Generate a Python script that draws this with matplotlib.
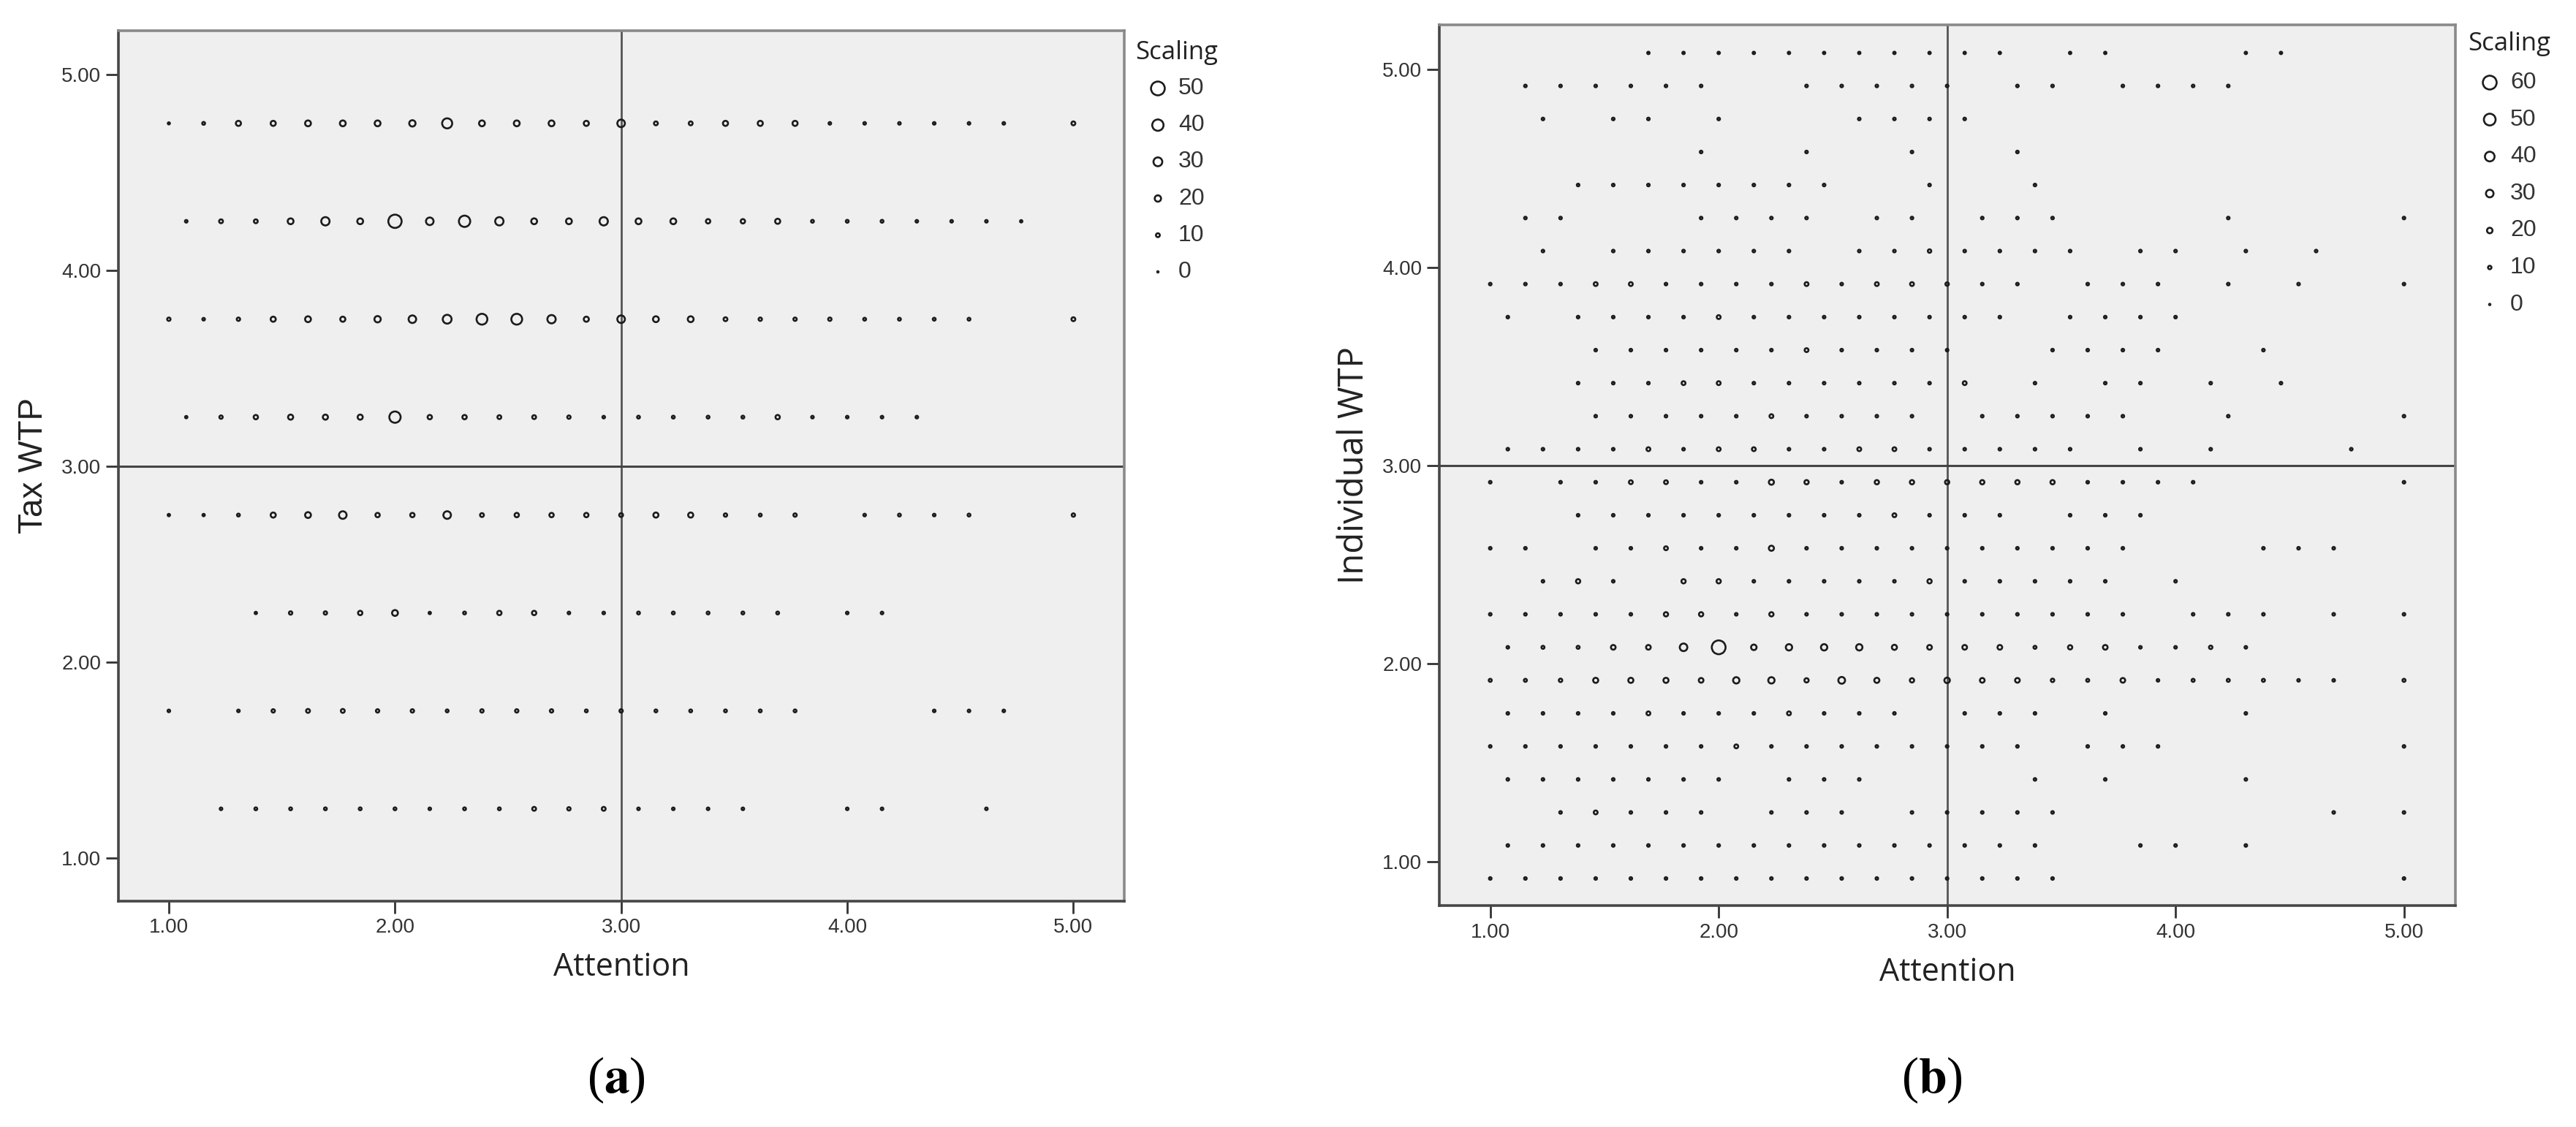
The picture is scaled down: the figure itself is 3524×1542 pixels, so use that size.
import matplotlib
matplotlib.use("Agg")
import matplotlib.pyplot as plt
from matplotlib import font_manager

# Attention scores sit on a grid of 1/13 steps: Attention = 1 + step / 13
# (a) Tax WTP rows
a_wtp = [5.25, 4.75, 4.25, 3.75, 3.25, 2.75, 2.25, 1.75, 1.25]
a_steps = [
    [15, 19, 21, 23, 25, 27],
    [0, 2, 4, 6, 8, 10, 12, 14, 16, 18, 20, 22, 24, 26, 28, 30, 32, 34, 36, 38, 40, 42, 44, 46, 48, 52],
    [1, 3, 5, 7, 9, 11, 13, 15, 17, 19, 21, 23, 25, 27, 29, 31, 33, 35, 37, 39, 41, 43, 45, 47, 49],
    [0, 2, 4, 6, 8, 10, 12, 14, 16, 18, 20, 22, 24, 26, 28, 30, 32, 34, 36, 38, 40, 42, 44, 46, 52],
    [1, 3, 5, 7, 9, 11, 13, 15, 17, 19, 21, 23, 25, 27, 29, 31, 33, 35, 37, 39, 41, 43],
    [0, 2, 4, 6, 8, 10, 12, 14, 16, 18, 20, 22, 24, 26, 28, 30, 32, 34, 36, 40, 42, 44, 46, 52],
    [5, 7, 9, 11, 13, 15, 17, 19, 21, 23, 25, 27, 29, 31, 33, 35, 39, 41],
    [0, 4, 6, 8, 10, 12, 14, 16, 18, 20, 22, 24, 26, 28, 30, 32, 34, 36, 44, 46, 48],
    [3, 5, 7, 9, 11, 13, 15, 17, 19, 21, 23, 25, 27, 29, 31, 33, 39, 41, 47],
]
a_counts = [
    [4, 6, 10, 6, 3, 3],
    [3, 6, 15, 15, 18, 18, 18, 20, 35, 18, 18, 18, 15, 25, 10, 10, 15, 15, 15, 5, 5, 5, 5, 5, 5, 10],
    [5, 10, 10, 18, 28, 18, 48, 25, 40, 28, 18, 18, 28, 18, 18, 12, 12, 15, 6, 6, 6, 5, 5, 5, 4],
    [8, 5, 8, 15, 18, 15, 20, 25, 30, 38, 38, 28, 15, 25, 18, 18, 10, 8, 8, 8, 6, 6, 6, 6, 10],
    [4, 8, 12, 15, 15, 15, 40, 12, 12, 10, 10, 8, 5, 6, 6, 6, 6, 12, 5, 5, 5, 5],
    [4, 4, 6, 15, 18, 25, 12, 12, 25, 10, 12, 12, 12, 10, 15, 15, 8, 6, 8, 5, 6, 5, 6, 8],
    [4, 8, 8, 12, 18, 4, 6, 12, 12, 5, 5, 6, 6, 6, 6, 6, 5, 5],
    [5, 5, 8, 10, 10, 8, 8, 6, 8, 8, 8, 6, 8, 6, 6, 6, 6, 6, 5, 5, 5],
    [5, 6, 6, 6, 6, 6, 5, 6, 6, 10, 8, 10, 5, 5, 5, 5, 5, 5, 5],
]

# (b) Individual WTP rows, WTP = twelfths / 12
b_twelfths = [61, 59, 57, 55, 53, 51, 49, 47, 45, 43, 41, 39, 37, 35, 33, 31, 29, 27, 25, 23, 21, 19, 17, 15, 13, 11]
b_steps = [
    [9, 11, 13, 15, 17, 19, 21, 23, 25, 27, 29, 33, 35, 43, 45],
    [2, 4, 6, 8, 10, 12, 18, 20, 22, 24, 26, 30, 32, 36, 38, 40, 42],
    [3, 7, 9, 13, 21, 23, 25, 27],
    [12, 18, 24, 30],
    [5, 7, 9, 11, 13, 15, 17, 19, 25, 31],
    [2, 4, 12, 14, 16, 18, 22, 24, 28, 30, 32, 42, 52],
    [3, 7, 9, 11, 13, 15, 17, 21, 23, 25, 27, 29, 31, 33, 37, 39, 43, 47],
    [0, 2, 4, 6, 8, 10, 12, 14, 16, 18, 20, 22, 24, 26, 28, 30, 34, 36, 38, 42, 46, 52],
    [1, 5, 7, 9, 11, 13, 15, 17, 19, 21, 23, 25, 27, 29, 33, 35, 37, 39],
    [6, 8, 10, 12, 14, 16, 18, 20, 22, 24, 26, 32, 34, 36, 38, 44],
    [5, 7, 9, 11, 13, 15, 17, 19, 21, 23, 25, 27, 31, 35, 37, 41, 45],
    [6, 8, 10, 12, 14, 16, 18, 20, 22, 24, 28, 30, 32, 34, 36, 42, 52],
    [1, 3, 5, 7, 9, 11, 13, 15, 17, 19, 21, 23, 25, 27, 29, 31, 33, 37, 41, 49],
    [0, 4, 6, 8, 10, 12, 14, 16, 18, 20, 22, 24, 26, 28, 30, 32, 34, 36, 38, 40, 52],
    [5, 7, 9, 11, 13, 15, 17, 19, 21, 23, 25, 27, 29, 33, 35, 37],
    [0, 2, 6, 8, 10, 12, 14, 16, 18, 20, 22, 24, 26, 28, 30, 32, 34, 36, 44, 46, 48],
    [3, 5, 7, 11, 13, 15, 17, 19, 21, 23, 25, 27, 29, 31, 33, 35, 39],
    [0, 2, 4, 6, 8, 10, 12, 14, 16, 18, 20, 22, 24, 26, 28, 30, 32, 34, 36, 40, 42, 44, 48, 52],
    [1, 3, 5, 7, 9, 11, 13, 15, 17, 19, 21, 23, 25, 27, 29, 31, 33, 35, 37, 39, 41, 43],
    [0, 2, 4, 6, 8, 10, 12, 14, 16, 18, 20, 22, 24, 26, 28, 30, 32, 34, 36, 38, 40, 42, 44, 46, 48, 52],
    [1, 3, 5, 7, 9, 11, 13, 15, 17, 19, 21, 23, 27, 29, 31, 35, 43],
    [0, 2, 4, 6, 8, 10, 12, 14, 16, 18, 20, 22, 24, 26, 28, 30, 34, 36, 38, 52],
    [1, 3, 5, 7, 9, 11, 13, 17, 19, 21, 31, 35, 43],
    [4, 6, 8, 10, 12, 16, 18, 20, 24, 26, 28, 30, 32, 48, 52],
    [1, 3, 5, 7, 9, 11, 13, 15, 17, 19, 21, 23, 25, 27, 29, 31, 37, 39, 43],
    [0, 2, 4, 6, 8, 10, 12, 14, 16, 18, 20, 22, 24, 26, 28, 30, 32, 52],
]
b_counts = [
    [5, 5, 5, 5, 5, 5, 5, 5, 5, 5, 5, 5, 5, 5, 5],
    [6, 6, 6, 6, 6, 6, 6, 6, 6, 6, 6, 6, 6, 6, 6, 6, 6],
    [6, 6, 6, 6, 6, 6, 6, 6],
    [6, 6, 6, 6],
    [6, 6, 6, 6, 6, 6, 6, 6, 6, 6],
    [6, 6, 6, 6, 6, 6, 6, 6, 6, 6, 6, 6, 6],
    [6, 6, 6, 6, 6, 6, 6, 6, 6, 10, 6, 6, 6, 6, 6, 6, 6, 6],
    [6, 6, 6, 12, 12, 6, 6, 6, 6, 12, 6, 12, 12, 10, 6, 6, 6, 6, 6, 6, 6, 6],
    [6, 6, 6, 6, 6, 12, 6, 6, 6, 6, 6, 6, 6, 6, 6, 6, 6, 6],
    [6, 6, 6, 6, 6, 6, 12, 6, 6, 6, 6, 6, 6, 6, 6, 6],
    [6, 6, 6, 12, 12, 6, 6, 6, 6, 6, 6, 12, 6, 6, 6, 6, 6],
    [6, 6, 6, 6, 6, 12, 6, 6, 6, 6, 6, 6, 6, 6, 6, 6, 6],
    [6, 6, 6, 6, 12, 6, 12, 12, 6, 6, 12, 12, 6, 6, 6, 6, 6, 6, 6, 6],
    [6, 6, 6, 12, 12, 6, 6, 18, 14, 6, 14, 14, 14, 14, 14, 14, 6, 6, 6, 6, 6],
    [6, 6, 6, 6, 6, 6, 6, 6, 6, 12, 6, 6, 6, 6, 6, 6],
    [6, 6, 6, 6, 12, 6, 6, 18, 6, 6, 6, 6, 6, 6, 6, 6, 6, 6, 6, 6, 6],
    [6, 14, 6, 14, 14, 6, 6, 6, 6, 6, 14, 6, 6, 6, 6, 6, 6],
    [6, 6, 6, 6, 6, 14, 14, 6, 14, 6, 6, 6, 6, 6, 6, 6, 6, 6, 6, 6, 6, 6, 6, 6],
    [6, 8, 8, 16, 16, 30, 60, 20, 24, 24, 24, 18, 16, 16, 16, 8, 14, 16, 6, 6, 10, 6],
    [8, 8, 10, 18, 18, 18, 16, 24, 24, 14, 26, 18, 14, 20, 16, 16, 10, 8, 16, 6, 8, 8, 8, 6, 6, 8],
    [6, 6, 6, 6, 12, 6, 6, 6, 12, 6, 6, 6, 6, 6, 6, 6, 6],
    [6, 6, 6, 6, 6, 6, 6, 12, 6, 6, 6, 6, 6, 6, 6, 6, 6, 6, 6, 6],
    [6, 6, 6, 6, 6, 6, 6, 6, 6, 6, 6, 6, 6],
    [6, 12, 6, 6, 6, 6, 6, 6, 6, 6, 6, 6, 6, 6, 6],
    [6, 6, 6, 6, 6, 6, 6, 6, 6, 6, 6, 6, 6, 6, 6, 6, 6, 6, 6],
    [6, 6, 6, 6, 6, 6, 6, 6, 6, 6, 6, 6, 6, 6, 6, 6, 6, 6],
]

ticks = [1, 2, 3, 4, 5]
tick_labels = ["1.00", "2.00", "3.00", "4.00", "5.00"]
a_legend = [50, 40, 30, 20, 10, 0]
b_legend = [60, 50, 40, 30, 20, 10, 0]

W, H = 3524, 1542
EDGE = "#1c1c1c"
LW = 1.9  # marker outline, points

installed = {f.name for f in font_manager.fontManager.ttflist}
NARROW = "Liberation Sans Narrow" if "Liberation Sans Narrow" in installed else "Liberation Sans"
UI = "Open Sans"
plt.rcParams["mathtext.fontset"] = "stix"


def marker_area(count, cmax):
    outer_px = 4.5 + 17 * count / cmax
    inner_px = max(outer_px - LW / 0.72, 1.2)
    return (inner_px * 0.72) ** 2


def px_box(left, top, right, bottom):
    return [left / W, 1 - bottom / H, (right - left) / W, (bottom - top) / H]


def setup(ax, ylabel, yfont, ysize, ylabelpad):
    ax.set_facecolor("#efefef")
    ax.set_xlim(0.777, 5.225)
    ax.set_ylim(0.78, 5.225)
    ax.axvline(3, color="#555555", lw=2.0, zorder=2)
    ax.axhline(3, color="#444444", lw=2.2, zorder=2)
    for side in ["left", "bottom"]:
        ax.spines[side].set_color("#474747")
        ax.spines[side].set_linewidth(2.6)
    for side in ["top", "right"]:
        ax.spines[side].set_color("#8a8a8a")
        ax.spines[side].set_linewidth(2.6)
    ax.set_xticks(ticks)
    ax.set_xticklabels(tick_labels)
    ax.set_yticks(ticks)
    ax.set_yticklabels(tick_labels)
    ax.tick_params(length=12, width=2, color="#333333", labelcolor="#333333",
                   labelsize=20, pad=5)
    for lab in ax.get_xticklabels() + ax.get_yticklabels():
        lab.set_fontfamily(NARROW)
    ax.set_xlabel("Attention", fontsize=31, fontfamily=UI, color="#222222", labelpad=14)
    ax.set_ylabel(ylabel, fontsize=ysize, fontfamily=yfont, color="#222222", labelpad=ylabelpad)


fig = plt.figure(figsize=(W / 100, H / 100), dpi=100)

ax_a = fig.add_axes(px_box(162, 41.5, 1538, 1232.6))
setup(ax_a, "Tax WTP", "Liberation Sans", 33, 12)
for wtp, steps, counts in zip(a_wtp, a_steps, a_counts):
    xs = [1 + s / 13 for s in steps]
    ax_a.scatter(xs, [wtp] * len(xs), s=[marker_area(c, 50) for c in counts],
                 facecolors="none", edgecolors=EDGE, linewidths=LW, zorder=3)

ax_b = fig.add_axes(px_box(1969, 34, 3359, 1239))
setup(ax_b, "Individual WTP", UI, 34, 11)
for tw, steps, counts in zip(b_twelfths, b_steps, b_counts):
    xs = [1 + s / 13 for s in steps]
    ax_b.scatter(xs, [tw / 12] * len(xs), s=[marker_area(c, 60) for c in counts],
                 facecolors="none", edgecolors=EDGE, linewidths=LW, zorder=3)

# overlay in pixel units for legends and panel letters
over = fig.add_axes([0, 0, 1, 1])
over.set_xlim(0, W)
over.set_ylim(H, 0)
over.axis("off")


def draw_legend(title_x, title_y, mark_x, first_y, step, values, cmax):
    over.text(title_x, title_y, "Scaling", fontsize=25, fontfamily=UI,
              color="#222222", ha="left", va="center")
    for i, v in enumerate(values):
        y = first_y + i * step
        over.scatter([mark_x], [y], s=marker_area(v, cmax), facecolors="none",
                     edgecolors=EDGE, linewidths=LW)
        over.text(mark_x + 28, y, str(v), fontsize=23, fontfamily=NARROW,
                  color="#333333", ha="left", va="center")


draw_legend(1553, 72, 1584, 121, 50.2, a_legend, 50)
draw_legend(3376, 60, 3406, 113, 50.6, b_legend, 60)

over.text(843, 1478, r"($\mathbf{a}$)", fontsize=50, fontfamily="Liberation Serif",
          ha="center", va="center")
over.text(2643, 1478, r"($\mathbf{b}$)", fontsize=50, fontfamily="Liberation Serif",
          ha="center", va="center")

fig.savefig("out.png", dpi=100)
